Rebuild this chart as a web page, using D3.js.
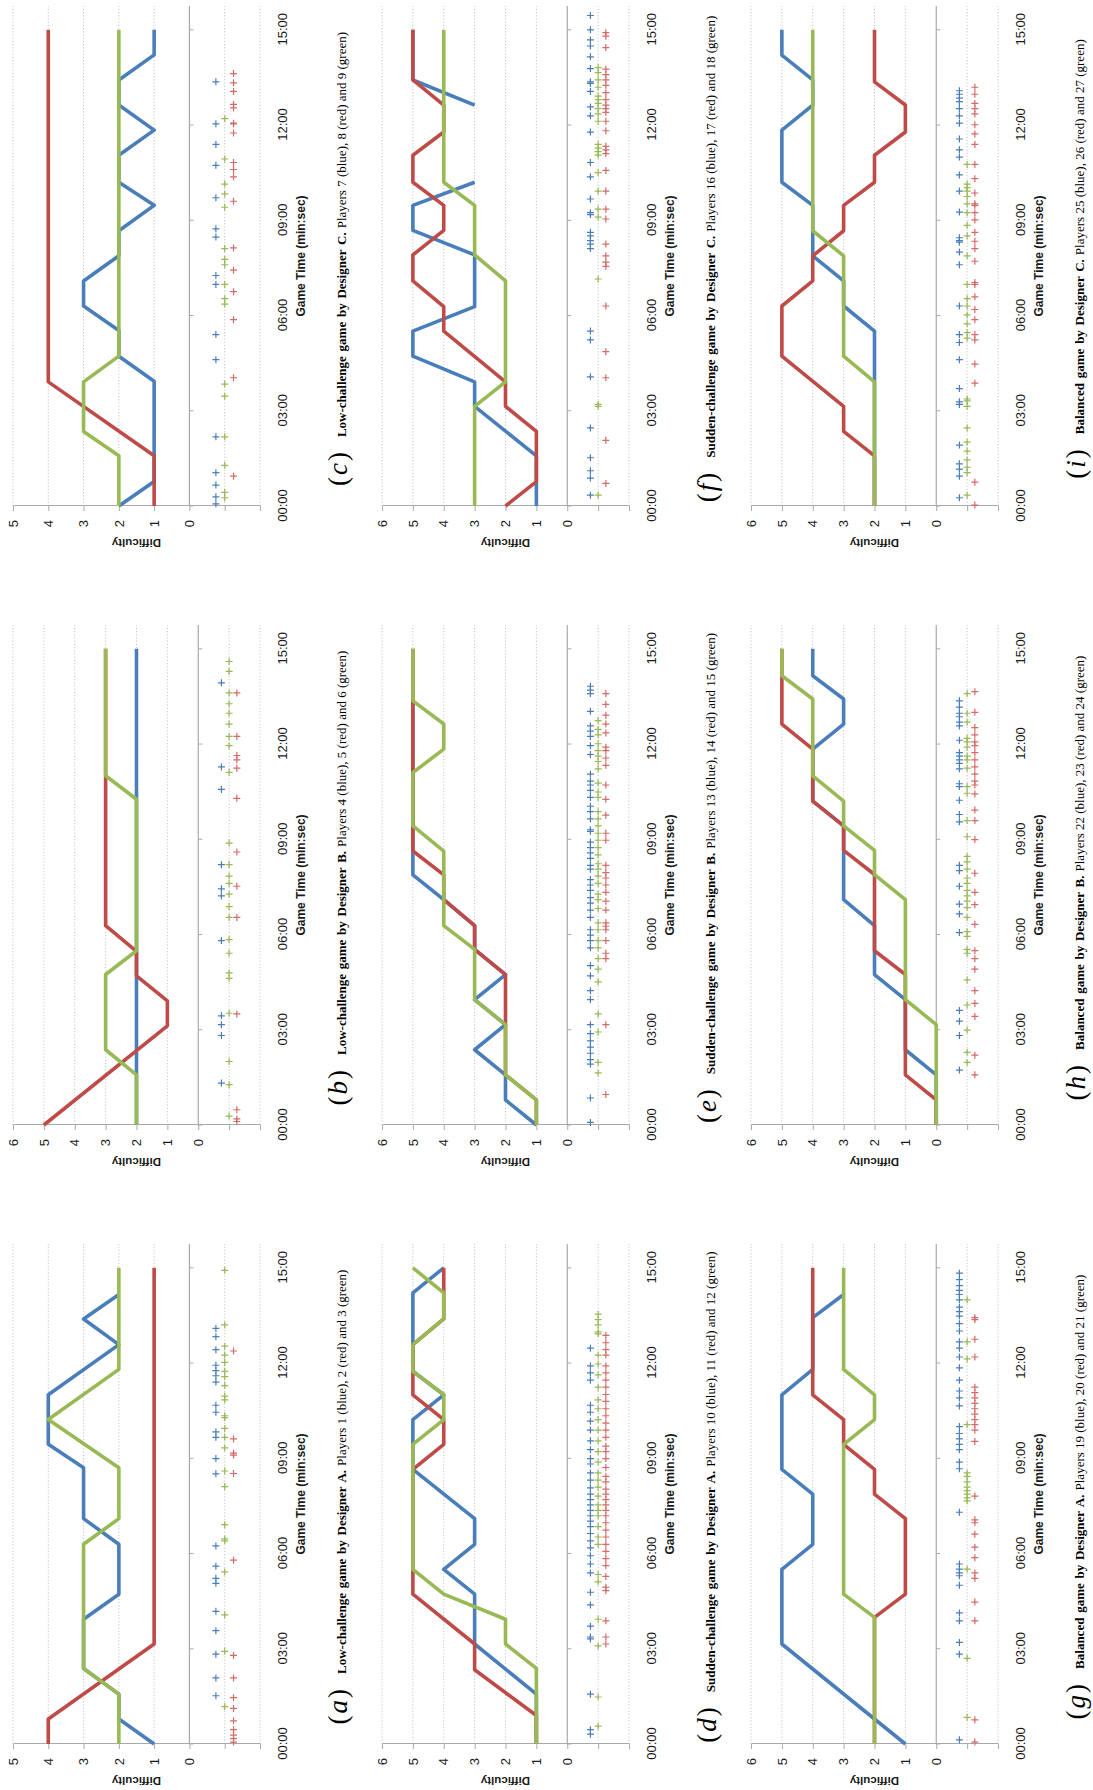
<!DOCTYPE html>
<html>
<head>
<meta charset="utf-8">
<script src="https://cdnjs.cloudflare.com/ajax/libs/d3/7.8.5/d3.min.js"></script>
<style>
body{margin:0;background:#fff}
svg{display:block}
</style>
</head>
<body>
<svg id="fig" width="1093" height="1790"></svg>
<script>
// time in minutes, difficulty level; markers are the times of the player events
const timeTickValues = [0, 3, 6, 9, 12, 15];
const timeTickLabels = ["00:00", "03:00", "06:00", "09:00", "12:00", "15:00"];
const panelLetters = ["a", "b", "c", "d", "e", "f", "g", "h", "i"];
const panelMaxLevel = [5, 6, 5, 6, 6, 6, 6, 6, 6];
const panelTitles = [
  "Low-challenge game by Designer A.", "Low-challenge game by Designer B.", "Low-challenge game by Designer C.",
  "Sudden-challenge game by Designer A.", "Sudden-challenge game by Designer B.", "Sudden-challenge game by Designer C.",
  "Balanced game by Designer A.", "Balanced game by Designer B.", "Balanced game by Designer C."
];
const panelPlayers = [
  "Players 1 (blue), 2 (red) and 3 (green)", "Players 4 (blue), 5 (red) and 6 (green)", "Players 7 (blue), 8 (red) and 9 (green)",
  "Players 10 (blue), 11 (red) and 12 (green)", "Players 13 (blue), 14 (red) and 15 (green)", "Players 16 (blue), 17 (red) and 18 (green)",
  "Players 19 (blue), 20 (red) and 21 (green)", "Players 22 (blue), 23 (red) and 24 (green)", "Players 25 (blue), 26 (red) and 27 (green)"
];

// (a)
const aBlueLine = [[0,1],[0.79,2],[1.57,2],[2.38,3],[3.93,3],[4.72,2],[6.29,2],[7.1,3],[8.7,3],[9.44,4],[11.0,4],[12.58,2],[13.39,3],[14.16,2]];
const aRedLine = [[0,4],[0.79,4],[3.15,1],[15,1]];
const aGreenLine = [[0,2],[1.57,2],[2.38,3],[6.29,3],[7.1,2],[8.7,2],[10.22,4],[11.8,2],[15,2]];
const aBlueMarks = [1.52,2.08,2.83,3.57,4.18,5.06,5.22,5.6,6.24,8.51,8.99,9.66,9.83,10.45,10.67,11.4,11.6,11.76,11.93,12.42,12.83,13.09];
const aGreenMarks = [1.18,2.92,4.07,5.42,6.4,6.46,6.91,8.11,8.6,9.33,9.66,9.94,10.28,10.34,10.84,10.96,11.29,11.57,11.74,12.02,12.25,12.53,13.2,14.92];
const aRedMarks = [0.06,0.17,0.28,0.45,0.73,1.12,1.46,2.08,2.79,5.79,8.52,9.1,9.16,9.61,12.38];

// (b)
const bBlueLine = [[0,2],[15,2]];
const bRedLine = [[0,5],[3.12,1],[3.91,1],[4.7,2],[5.47,2],[6.28,3],[11.0,3],[15,3]];
const bGreenLine = [[0,2],[1.58,2],[2.37,3],[4.74,3],[5.49,2],[10.26,2],[11.0,3],[15,3]];
const bBlueMarks = [1.32,2.82,3.16,3.44,5.81,7.22,7.44,8.2,10.57,11.28,13.93];
const bGreenMarks = [0.28,1.27,2.0,3.52,4.62,4.79,5.41,5.84,6.54,6.88,7.27,7.61,7.84,8.2,8.88,11.11,11.95,12.24,12.63,12.97,13.27,13.61,14.29,14.6];
const bRedMarks = [0.11,0.19,0.48,3.5,6.54,7.52,8.6,10.29,11.24,11.5,11.64,12.24,13.61];

// (c)
const cBlueLine = [[0,2],[0.77,1],[3.93,1],[4.72,2],[5.53,2],[6.3,3],[7.09,3],[7.88,2],[8.67,2],[9.47,1],[10.2,2],[11.05,2],[11.84,1],[12.63,2],[13.42,2],[14.21,1],[15,1]];
const cRedLine = [[0,1],[1.58,1],[3.91,4],[15,4]];
const cGreenLine = [[0,2],[1.58,2],[2.35,3],[3.91,3],[4.72,2],[15,2]];
const cBlueMarks = [0.07,0.29,0.66,1.05,2.18,4.61,5.4,6.98,7.26,8.47,8.73,9.71,10.73,11.39,12.04,13.36];
const cGreenMarks = [0.26,0.43,1.28,2.18,3.46,3.84,6.36,6.53,6.98,7.6,7.77,8.11,9.41,9.83,10.14,10.93,12.2];
const cRedMarks = [0.94,4.04,5.87,6.75,7.43,8.13,9.6,10.37,10.6,10.82,11.75,12.04,12.06,12.54,12.65,13.06,13.33,13.62];

// (d)
const dBlueLine = [[0,1],[1.57,1],[3.15,3],[4.72,3],[5.5,4],[6.29,3],[7.1,3],[8.65,5],[10.22,5],[11.0,4],[11.74,5],[14.21,5],[15,4]];
const dRedLine = [[0,1],[0.9,1],[2.34,3],[3.15,3],[4.72,5],[8.65,5],[9.44,4],[10.22,4],[11.0,5],[12.58,5],[13.39,4],[15,4]];
const dGreenLine = [[0,1],[2.38,1],[3.15,2],[3.93,2],[4.72,4],[5.5,5],[9.44,5],[10.22,4],[11.0,4],[11.74,5],[12.58,5],[13.39,4],[14.21,4],[15,5]];
const dBlueMarks = [0.31,0.45,1.57,3.31,3.37,3.71,4.38,4.78,5.39,5.67,5.93,6.18,6.4,6.63,6.85,7.02,7.19,7.36,7.53,7.7,7.87,8.07,8.31,8.54,8.82,8.99,9.27,9.55,9.89,10.17,10.45,10.67,11.46,11.69,11.91,12.47];
const dGreenMarks = [0.56,1.48,3.09,3.93,5.11,5.34,6.29,6.52,6.85,7.19,7.36,7.53,7.81,8.09,8.31,8.54,8.88,9.21,9.55,9.89,10.22,10.56,10.84,11.24,11.63,11.97,12.25,12.92,12.98,13.2,13.37,13.54];
const dRedMarks = [3.15,3.37,3.88,4.83,4.94,5.28,5.62,5.84,6.07,6.29,6.52,6.74,6.97,7.19,7.36,7.53,7.7,7.87,8.03,8.26,8.43,8.71,8.99,9.21,9.38,9.66,9.89,10.11,10.34,10.56,10.79,11.01,11.24,11.46,11.69,11.91,12.25,12.42,12.64,12.87];

// (e)
const eBlueLine = [[0,1],[0.79,2],[1.58,2],[2.37,3],[3.16,2],[3.95,3],[4.74,2],[5.53,3],[6.28,3],[7.1,4],[7.88,5],[13.36,5]];
const eRedLine = [[0,1],[0.79,1],[1.58,2],[3.16,2],[4.74,2],[5.53,3],[6.28,3],[7.1,4],[7.88,4],[8.63,5],[15,5]];
const eGreenLine = [[0,1],[0.79,1],[1.58,2],[3.16,2],[3.95,3],[5.53,3],[6.28,4],[8.63,4],[9.42,5],[11.1,5],[11.84,4],[12.63,4],[13.36,5],[15,5]];
const eBlueMarks = [0.08,0.85,1.92,2.06,2.26,2.45,2.65,2.88,3.16,3.95,4.23,4.7,5.02,5.58,5.81,5.98,6.15,6.54,6.77,6.99,7.16,7.39,7.56,7.73,8.06,8.18,8.4,8.57,8.74,8.91,9.25,9.3,9.64,9.87,10.04,10.32,10.54,10.71,10.83,11.05,11.67,11.95,12.24,12.41,12.57,13.03,13.59,13.7,13.82];
const eGreenMarks = [1.64,1.97,2.93,3.5,4.51,4.91,5.24,5.58,5.81,6.15,6.37,6.82,7.1,7.27,7.61,7.84,8.06,8.23,8.51,8.74,8.97,9.19,9.42,9.64,9.87,10.32,10.49,10.77,11.22,11.45,11.62,11.79,12.01,12.29,12.46,12.74];
const eRedMarks = [0.96,3.16,5.24,5.41,5.81,6.15,6.26,6.37,6.77,7.05,7.33,7.56,7.78,7.95,8.18,8.97,9.19,9.76,10.26,10.71,11.33,11.56,11.79,11.9,12.35,12.63,12.91,13.25,13.59];

// (f)  null = no data between the two blue segments
const fBlueLine = [[0,1],[1.58,1],[3.14,3],[3.91,3],[4.72,5],[5.51,5],[6.28,3],[7.91,3],[8.68,5],[9.47,5],[10.2,3],null,[12.63,3],[13.42,5],[15,5]];
const fRedLine = [[0,2],[0.77,1],[2.35,1],[3.14,2],[3.91,2],[5.51,4],[6.28,4],[7.09,5],[7.91,5],[8.68,4],[9.47,4],[10.2,5],[11.05,5],[11.78,4],[12.63,4],[13.42,5],[15,5]];
const fGreenLine = [[0,3],[3.14,3],[3.91,2],[7.09,2],[7.91,3],[9.47,3],[10.2,4],[15,4]];
const fBlueMarks = [0.34,0.88,1.11,1.52,2.46,4.07,5.23,5.51,8.11,8.25,8.36,8.51,8.62,9.18,9.24,9.67,10.37,10.82,11.78,12.29,12.57,13.06,13.31,13.36,13.78,14.15,14.49,14.68,15.0,15.45];
const fGreenMarks = [0.34,3.14,3.2,7.15,9.1,9.35,9.92,10.5,11.05,11.16,11.27,11.39,12.12,12.35,12.52,12.68,12.8,12.91,13.19,13.42,13.65,13.81];
const fRedMarks = [0.71,2.07,4.04,4.86,6.3,7.55,7.68,7.88,8.25,9.04,9.35,9.92,10.57,11.1,11.22,11.33,11.82,12.12,12.4,12.52,12.63,12.8,13.02,13.25,13.42,13.59,13.76,14.44,14.8,14.91];

// (g)
const gBlueLine = [[0,1],[3.15,5],[5.5,5],[6.29,4],[7.87,4],[8.65,5],[11.0,5],[11.8,4],[13.43,4],[14.16,3]];
const gRedLine = [[0,2],[3.99,2],[4.72,1],[7.1,1],[7.87,2],[8.65,2],[9.44,3],[10.22,3],[11.0,4],[15,4]];
const gGreenLine = [[0,2],[3.99,2],[4.72,3],[9.44,3],[10.22,2],[11.0,2],[11.8,3],[15,3]];
const gBlueMarks = [0.13,2.83,3.2,3.88,4.13,5.0,5.3,5.39,5.51,5.67,7.3,8.67,8.88,9.27,9.44,9.61,9.78,10.0,10.65,10.9,11.12,11.46,11.85,12.19,12.47,12.67,13.01,13.24,13.48,13.62,13.76,13.99,14.16,14.29,14.44,14.63,14.83];
const gGreenMarks = [0.84,2.7,5.51,7.66,7.75,7.87,7.98,8.09,8.26,8.43,8.54,10.06,12.13,12.67,13.99];
const gRedMarks = [0.06,0.76,3.88,4.47,5.22,5.39,5.87,6.2,6.61,6.97,7.06,7.81,9.53,9.89,10.06,10.22,10.39,10.56,10.73,10.9,11.07,11.24,12.19,12.75,13.37,13.43];

// (h)
const hBlueLine = [[0,0],[1.58,0],[2.37,1],[3.95,1],[4.74,2],[6.28,2],[7.1,3],[9.42,3],[10.2,4],[11.84,4],[12.63,3],[13.42,3],[14.15,4],[15,4]];
const hRedLine = [[0,0],[0.79,0],[1.58,1],[4.74,1],[5.49,2],[7.89,2],[8.65,3],[9.42,3],[10.2,4],[11.84,4],[12.63,5],[15,5]];
const hGreenLine = [[0,0],[3.16,0],[3.95,1],[7.1,1],[7.89,2],[8.65,2],[9.42,3],[10.2,3],[11.0,4],[13.42,4],[14.15,5],[15,5]];
const hBlueMarks = [1.73,2.82,3.27,3.61,6.06,6.65,6.96,7.52,8.01,8.18,9.55,9.78,10.23,10.66,10.75,11.22,11.39,11.5,11.62,11.73,12.12,12.57,12.69,12.86,12.97,13.16,13.36];
const hGreenMarks = [1.97,2.29,2.99,3.78,4.57,5.41,5.53,5.94,6.09,6.54,6.85,7.05,7.22,7.39,7.61,7.78,8.06,8.29,8.46,9.08,9.59,10.45,10.66,11.24,11.5,11.62,11.9,12.07,12.18,12.69,12.97,13.59];
const hRedMarks = [1.58,2.2,3.42,3.83,4.23,4.91,5.24,5.49,6.32,6.94,7.33,7.93,8.99,9.59,9.92,10.43,10.71,10.83,11.05,11.28,11.5,11.73,11.95,12.07,12.29,12.52,13.0,13.65];

// (i)
const iBlueLine = [[0,2],[5.51,2],[6.3,3],[7.09,3],[7.88,4],[9.47,4],[10.2,5],[11.84,5],[12.63,4],[13.42,4],[14.2,5],[15,5]];
const iRedLine = [[0,2],[1.58,2],[2.35,3],[3.14,3],[4.72,5],[6.3,5],[7.09,4],[7.88,4],[8.67,3],[9.47,3],[10.2,2],[11.05,2],[11.78,1],[12.63,1],[13.36,2],[15,2]];
const iGreenLine = [[0,2],[3.91,2],[4.72,3],[7.88,3],[8.67,4],[15,4]];
const iBlueMarks = [0.26,0.94,1.16,1.33,1.92,3.2,3.28,3.7,4.61,5.15,5.4,6.3,7.6,8.0,8.31,8.36,8.45,9.26,9.92,10.43,10.99,11.22,11.56,12.06,12.29,12.52,12.74,12.85,12.97,13.08];
const iGreenMarks = [0.34,1.05,1.22,1.45,1.73,2.01,2.46,3.14,3.31,3.37,5.29,5.46,5.74,6.02,6.3,6.53,6.98,7.88,8.51,8.84,9.24,9.52,9.75,9.92,10.03,10.14,10.76];
const iRedMarks = [0.03,0.75,3.87,4.47,5.23,5.4,5.87,6.19,6.59,6.98,7.04,7.71,8.11,8.34,8.62,9.01,9.24,9.47,9.52,9.86,10.31,10.76,11.39,11.72,12.01,12.35,12.52,12.68,12.97,13.19];

const blueLines = [aBlueLine, bBlueLine, cBlueLine, dBlueLine, eBlueLine, fBlueLine, gBlueLine, hBlueLine, iBlueLine];
const redLines = [aRedLine, bRedLine, cRedLine, dRedLine, eRedLine, fRedLine, gRedLine, hRedLine, iRedLine];
const greenLines = [aGreenLine, bGreenLine, cGreenLine, dGreenLine, eGreenLine, fGreenLine, gGreenLine, hGreenLine, iGreenLine];
const blueMarks = [aBlueMarks, bBlueMarks, cBlueMarks, dBlueMarks, eBlueMarks, fBlueMarks, gBlueMarks, hBlueMarks, iBlueMarks];
const redMarks = [aRedMarks, bRedMarks, cRedMarks, dRedMarks, eRedMarks, fRedMarks, gRedMarks, hRedMarks, iRedMarks];
const greenMarks = [aGreenMarks, bGreenMarks, cGreenMarks, dGreenMarks, eGreenMarks, fGreenMarks, gGreenMarks, hGreenMarks, iGreenMarks];

const W = 1093, H = 1790;
const SANS = "'Liberation Sans', Arial, sans-serif";
const SERIF = "'Liberation Serif', 'Times New Roman', serif";
const COLORS = {blue: '#4a7ebb', red: '#be4b48', green: '#98b954'};
const MARK_COLORS = {blue: '#4a7ebb', red: '#d56a67', green: '#98b954'};
const MARK_LEVEL = {blue: -0.75, green: -1, red: -1.25};

const timeMax = 15.75;
const plotW = 500, left0 = 46, colStep = 619;
const top0 = 13, bottom0 = 260, rowStep = 369;

const svg = d3.select('#fig');
svg.append('rect').attr('width', W).attr('height', H).attr('fill', '#fff');
// the whole figure is turned a quarter to the left
const page = svg.append('g').attr('transform', 'translate(0,' + H + ') rotate(-90)');

function drawPanel(k) {
    const row = Math.floor(k / 3), col = k % 3;
    const left = left0 + col * colStep;
    const top = top0 + row * rowStep, bottom = bottom0 + row * rowStep;
    const maxLevel = panelMaxLevel[k];

    const x = d3.scaleLinear().domain([0, timeMax]).range([left, left + plotW]);
    const y = d3.scaleLinear().domain([-2, maxLevel]).range([bottom, top]);
    const g = page.append('g').attr('class', 'panel-' + panelLetters[k]);

    // dotted gridlines
    g.selectAll('.grid')
      .data(d3.range(-2, maxLevel + 1).filter(v => v !== 0))
      .enter().append('line')
      .attr('class', 'grid')
      .attr('x1', left).attr('x2', left + plotW)
      .attr('y1', d => y(d)).attr('y2', d => y(d))
      .attr('stroke', '#c4c4c4').attr('stroke-width', 1)
      .attr('stroke-dasharray', '1.2,2');

    // zero line with small time ticks
    g.append('line')
      .attr('x1', left).attr('x2', left + plotW)
      .attr('y1', y(0)).attr('y2', y(0))
      .attr('stroke', '#a9a9a9').attr('stroke-width', 1.2);
    g.selectAll('.ztick')
      .data(timeTickValues)
      .enter().append('line')
      .attr('class', 'ztick')
      .attr('x1', d => x(d)).attr('x2', d => x(d))
      .attr('y1', y(0)).attr('y2', y(0) + 4)
      .attr('stroke', '#a9a9a9');

    // difficulty axis
    const yAxis = d3.axisLeft(y)
      .tickValues(d3.range(-2, maxLevel + 1))
      .tickFormat(d => d >= 0 ? d : '')
      .tickSize(5).tickSizeOuter(0).tickPadding(9);
    const ya = g.append('g').attr('transform', 'translate(' + left + ',0)').call(yAxis);
    ya.attr('font-family', SANS).attr('font-size', 13);
    ya.select('.domain').attr('stroke', '#a9a9a9');
    ya.selectAll('.tick line').attr('stroke', '#a9a9a9');
    ya.selectAll('.tick text').attr('fill', '#1a1a1a');

    // time labels below the plot
    const xAxis = d3.axisBottom(x)
      .tickValues(timeTickValues)
      .tickFormat((d, i) => timeTickLabels[i])
      .tickSize(0).tickPadding(18);
    const xa = g.append('g').attr('transform', 'translate(0,' + bottom + ')').call(xAxis);
    xa.select('.domain').remove();
    xa.attr('font-family', SANS).attr('font-size', 13);
    xa.selectAll('.tick text').attr('fill', '#1a1a1a');

    // series lines
    const line = d3.line()
      .defined(d => d !== null)
      .x(d => x(d[0]))
      .y(d => y(d[1]));
    const series = [['blue', blueLines[k]], ['red', redLines[k]], ['green', greenLines[k]]];
    series.forEach(s => {
        g.append('path')
          .datum(s[1])
          .attr('d', line)
          .attr('fill', 'none')
          .attr('stroke', COLORS[s[0]])
          .attr('stroke-width', 3.6)
          .attr('stroke-linejoin', 'round');
    });

    // event markers
    const marks = [['blue', blueMarks[k]], ['green', greenMarks[k]], ['red', redMarks[k]]];
    marks.forEach(m => {
        g.selectAll('.mark-' + m[0])
          .data(m[1])
          .enter().append('path')
          .attr('class', 'mark-' + m[0])
          .attr('transform', d => 'translate(' + x(d) + ',' + y(MARK_LEVEL[m[0]]) + ')')
          .attr('d', 'M-3.5,0H3.5M0,-3.5V3.5')
          .attr('stroke', MARK_COLORS[m[0]])
          .attr('stroke-width', 1.2)
          .attr('fill', 'none');
    });

    // axis titles
    g.append('text')
      .attr('transform', 'translate(' + (left - 33) + ',' + ((top + bottom) / 2) + ') rotate(-90)')
      .attr('text-anchor', 'middle')
      .attr('font-family', SANS).attr('font-size', 11.5).attr('font-weight', 'bold')
      .attr('fill', '#1a1a1a')
      .text('Difficulty');
    g.append('text')
      .attr('x', left + plotW / 2).attr('y', bottom + 45)
      .attr('text-anchor', 'middle')
      .attr('font-family', SANS).attr('font-size', 12).attr('font-weight', 'bold')
      .attr('fill', '#1a1a1a')
      .text('Game Time (min:sec)');

    // caption
    const cap = g.append('text')
      .attr('x', left + 247).attr('y', bottom + 86)
      .attr('text-anchor', 'middle')
      .attr('font-family', SERIF).attr('fill', '#000');
    cap.append('tspan').attr('font-size', 27).attr('dy', 1).text('(');
    cap.append('tspan').attr('font-size', 27).attr('font-style', 'italic').attr('dx', 2).text(panelLetters[k]);
    cap.append('tspan').attr('font-size', 27).attr('dx', 2).text(')');
    cap.append('tspan').attr('font-size', 13).attr('font-weight', 'bold').attr('dx', 15).attr('dy', -1)
      .attr('word-spacing', 1.5).text(panelTitles[k]);
    cap.append('tspan').attr('font-size', 13).attr('dx', 4).text(panelPlayers[k]);
}

for (let k = 0; k < 9; k++) drawPanel(k);
</script>
</body>
</html>
